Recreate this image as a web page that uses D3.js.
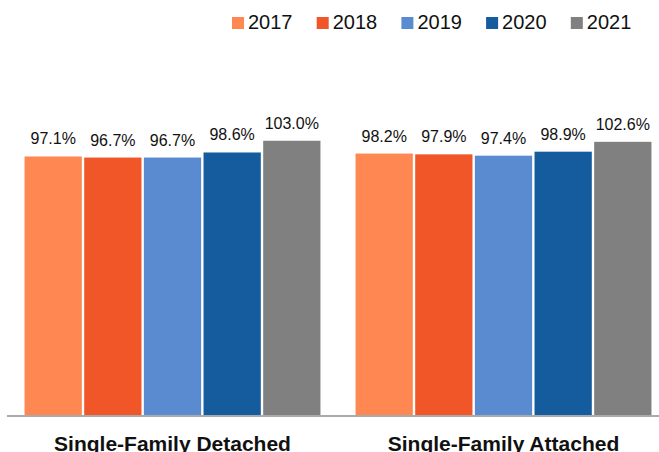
<!DOCTYPE html>
<html>
<head>
<meta charset="utf-8">
<script src="https://cdn.jsdelivr.net/npm/d3@7"></script>
<style>
  body { margin: 0; background: #fff; }
  text { font-family: "Liberation Sans", Arial, Helvetica, sans-serif; fill: #111; }
</style>
</head>
<body>
<svg id="chart" width="659" height="452"></svg>
<script>
// chart data
var categories = ["Single-Family Detached", "Single-Family Attached"];
var years = ["2017", "2018", "2019", "2020", "2021"];
var detached = [97.1, 96.7, 96.7, 98.6, 103.0];
var attached = [98.2, 97.9, 97.4, 98.9, 102.6];
var colors = ["#FF8852", "#F05628", "#5A8AD0", "#145C9E", "#808080"];

var seriesByCat = [detached, attached];

var svg = d3.select("#chart");

var x0 = d3.scaleBand()
  .domain(categories)
  .range([7, 669])
  .paddingInner(0.106)
  .paddingOuter(0.053);

var x1 = d3.scaleBand()
  .domain(years)
  .range([0, x0.bandwidth()])
  .paddingInner(0.04);

var y = d3.scaleLinear()
  .domain([0, 120])
  .range([415.5, 95.4]);

var z = d3.scaleOrdinal().domain(years).range(colors);

var rows = [];
categories.forEach(function (c, ci) {
  years.forEach(function (yr, yi) {
    rows.push({ cat: c, year: yr, value: seriesByCat[ci][yi] });
  });
});

// bars
svg.append("g").selectAll("rect")
  .data(rows)
  .enter()
  .append("rect")
  .attr("x", function (d) { return x0(d.cat) + x1(d.year); })
  .attr("y", function (d) { return y(d.value); })
  .attr("width", x1.bandwidth())
  .attr("height", function (d) { return y(0) - y(d.value); })
  .style("fill", function (d) { return z(d.year); });

// value labels
svg.append("g").selectAll("text")
  .data(rows)
  .enter()
  .append("text")
  .attr("x", function (d) { return x0(d.cat) + x1(d.year) + x1.bandwidth() / 2; })
  .attr("y", function (d) { return y(d.value) - 12; })
  .attr("text-anchor", "middle")
  .style("font-size", "16px")
  .text(function (d) { return d.value.toFixed(1) + "%"; });

// baseline
svg.append("line")
  .attr("x1", 7)
  .attr("x2", 659)
  .attr("y1", y(0) + 0.5)
  .attr("y2", y(0) + 0.5)
  .style("stroke", "#aaa")
  .style("stroke-width", 2);

// category labels
svg.append("g").selectAll("text")
  .data(categories)
  .enter()
  .append("text")
  .attr("x", function (d) { return x0(d) + x0.bandwidth() / 2; })
  .attr("y", 451)
  .attr("text-anchor", "middle")
  .style("font-size", "21px")
  .style("font-weight", "bold")
  .text(function (d) { return d; });

// legend
var legend = svg.append("g").selectAll("g")
  .data(years)
  .enter()
  .append("g")
  .attr("transform", function (d, i) { return "translate(" + (232 + i * 84.7) + ",17)"; });

legend.append("rect")
  .attr("width", 12)
  .attr("height", 12)
  .style("fill", function (d) { return z(d); });

legend.append("text")
  .attr("x", 16)
  .attr("y", 12)
  .style("font-size", "20px")
  .text(function (d) { return d; });
</script>
</body>
</html>
